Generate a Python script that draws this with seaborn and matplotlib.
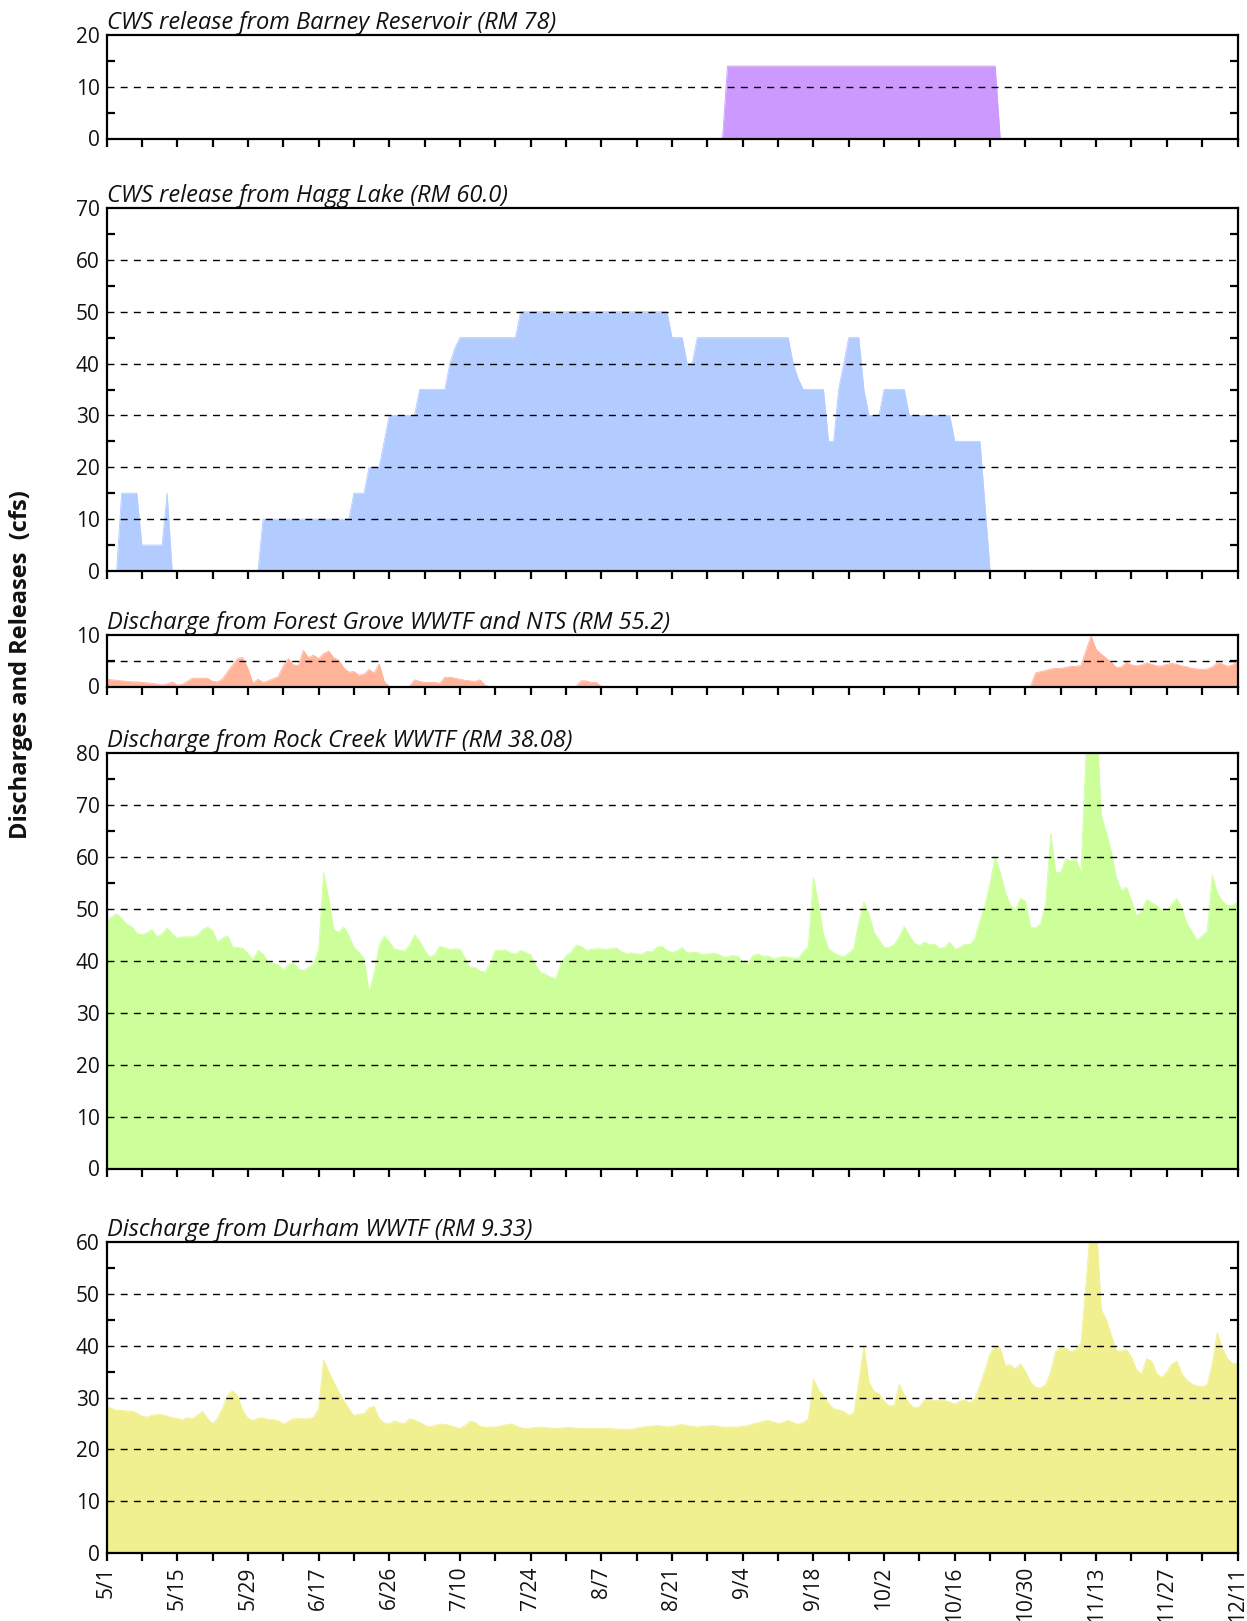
import matplotlib
matplotlib.use("Agg")
import matplotlib.pyplot as plt
from matplotlib.ticker import MultipleLocator, FixedLocator
import seaborn as sns

# x tick labels, one every 14 days from 5/1 to 12/11
date_labels = ['5/1', '5/15', '5/29', '6/17', '6/26', '7/10', '7/24', '8/7', '8/21',
               '9/4', '9/18', '10/2', '10/16', '10/30', '11/13', '11/27', '12/11']

# daily values (cfs), day 0 = 5/1 ... day 224 = 12/11, one row per two weeks
barney = [
    0, 0, 0, 0, 0, 0, 0, 0, 0, 0, 0, 0, 0, 0,
    0, 0, 0, 0, 0, 0, 0, 0, 0, 0, 0, 0, 0, 0,
    0, 0, 0, 0, 0, 0, 0, 0, 0, 0, 0, 0, 0, 0,
    0, 0, 0, 0, 0, 0, 0, 0, 0, 0, 0, 0, 0, 0,
    0, 0, 0, 0, 0, 0, 0, 0, 0, 0, 0, 0, 0, 0,
    0, 0, 0, 0, 0, 0, 0, 0, 0, 0, 0, 0, 0, 0,
    0, 0, 0, 0, 0, 0, 0, 0, 0, 0, 0, 0, 0, 0,
    0, 0, 0, 0, 0, 0, 0, 0, 0, 0, 0, 0, 0, 0,
    0, 0, 0, 0, 0, 0, 0, 0, 0, 0, 0, 14, 14, 14,
    14, 14, 14, 14, 14, 14, 14, 14, 14, 14, 14, 14, 14, 14,
    14, 14, 14, 14, 14, 14, 14, 14, 14, 14, 14, 14, 14, 14,
    14, 14, 14, 14, 14, 14, 14, 14, 14, 14, 14, 14, 14, 14,
    14, 14, 14, 14, 14, 14, 14, 14, 14, 0, 0, 0, 0, 0,
    0, 0, 0, 0, 0, 0, 0, 0, 0, 0, 0, 0, 0, 0,
    0, 0, 0, 0, 0, 0, 0, 0, 0, 0, 0, 0, 0, 0,
    0, 0, 0, 0, 0, 0, 0, 0, 0, 0, 0, 0, 0, 0,
    0]

hagg = [
    0, 0, 0, 15, 15, 15, 15, 5, 5, 5, 5, 5, 15, 0,
    0, 0, 0, 0, 0, 0, 0, 0, 0, 0, 0, 0, 0, 0,
    0, 0, 0, 10, 10, 10, 10, 10, 10, 10, 10, 10, 10, 10,
    10, 10, 10, 10, 10, 10, 10, 15, 15, 15, 20, 20, 20, 25,
    30, 30, 30, 30, 30, 30, 35, 35, 35, 35, 35, 35, 40, 43,
    45, 45, 45, 45, 45, 45, 45, 45, 45, 45, 45, 45, 50, 50,
    50, 50, 50, 50, 50, 50, 50, 50, 50, 50, 50, 50, 50, 50,
    50, 50, 50, 50, 50, 50, 50, 50, 50, 50, 50, 50, 50, 50,
    45, 45, 45, 40, 40, 45, 45, 45, 45, 45, 45, 45, 45, 45,
    45, 45, 45, 45, 45, 45, 45, 45, 45, 45, 40, 37, 35, 35,
    35, 35, 35, 25, 25, 35, 40, 45, 45, 45, 35, 30, 30, 30,
    35, 35, 35, 35, 35, 30, 30, 30, 30, 30, 30, 30, 30, 30,
    25, 25, 25, 25, 25, 25, 12.5, 0, 0, 0, 0, 0, 0, 0,
    0, 0, 0, 0, 0, 0, 0, 0, 0, 0, 0, 0, 0, 0,
    0, 0, 0, 0, 0, 0, 0, 0, 0, 0, 0, 0, 0, 0,
    0, 0, 0, 0, 0, 0, 0, 0, 0, 0, 0, 0, 0, 0,
    0]

forest_grove = [
    1.4, 1.3, 1.2, 1.1, 1.0, 0.9, 0.9, 0.8, 0.7, 0.6, 0.5, 0.3, 0.5, 0.9,
    0.3, 0.4, 1.0, 1.6, 1.6, 1.6, 1.6, 1.0, 0.9, 1.5, 2.9, 4.2, 5.5, 5.6,
    3.5, 0.7, 1.4, 0.8, 1.1, 1.5, 1.9, 4.0, 5.4, 4.2, 4.1, 7.0, 5.6, 6.1,
    5.4, 6.4, 6.9, 5.6, 5.1, 3.6, 2.8, 2.9, 2.2, 2.4, 3.3, 2.6, 4.4, 1.0,
    0, 0, 0, 0, 0, 1.3, 1.0, 0.8, 0.8, 0.8, 0.6, 1.8, 1.8, 1.6,
    1.4, 1.2, 1.1, 1.0, 1.3, 0.2, 0, 0, 0, 0, 0, 0, 0, 0,
    0, 0, 0, 0, 0, 0, 0, 0, 0, 0, 1.1, 1.1, 0.8, 0.8,
    0, 0, 0, 0, 0, 0, 0, 0, 0, 0, 0, 0, 0, 0,
    0, 0, 0, 0, 0, 0, 0, 0, 0, 0, 0, 0, 0, 0,
    0, 0, 0, 0, 0, 0, 0, 0, 0, 0, 0, 0, 0, 0,
    0, 0, 0, 0, 0, 0, 0, 0, 0, 0, 0, 0, 0, 0,
    0, 0, 0, 0, 0, 0, 0, 0, 0, 0, 0, 0, 0, 0,
    0, 0, 0, 0, 0, 0, 0, 0, 0, 0, 0, 0, 0, 0,
    0, 0, 2.6, 2.9, 3.1, 3.4, 3.5, 3.5, 3.7, 3.9, 3.9, 4.1, 7.0, 9.8,
    7.2, 6.3, 5.5, 4.7, 3.7, 3.8, 4.7, 4.2, 4.0, 4.2, 4.6, 4.3, 4.0, 4.0,
    4.3, 4.5, 4.3, 4.0, 3.8, 3.5, 3.4, 3.3, 3.4, 3.8, 4.6, 4.4, 3.9, 4.2,
    4.9]

rock_creek = [
    47.6, 48.5, 49.0, 48.2, 47.0, 46.6, 45.3, 45.0, 45.4, 46.0, 44.6, 45.2, 46.3, 45.2,
    44.4, 44.6, 44.6, 44.6, 44.9, 46.0, 46.5, 45.8, 43.6, 44.4, 44.8, 42.6, 42.6, 42.4,
    41.4, 40.2, 42.0, 41.3, 39.8, 39.5, 39.3, 38.2, 39.2, 39.7, 38.4, 38.1, 38.7, 39.4,
    42.0, 57.0, 52.0, 46.0, 45.5, 46.5, 44.8, 42.6, 41.6, 40.4, 34.0, 37.6, 43.0, 44.7,
    43.7, 42.2, 42.1, 41.8, 43.0, 45.0, 43.8, 42.0, 40.7, 41.2, 42.8, 42.5, 42.1, 42.3,
    42.2, 40.6, 38.7, 38.7, 38.0, 37.8, 39.6, 42.0, 42.0, 42.1, 41.5, 41.3, 42.0, 41.6,
    41.2, 39.2, 37.7, 37.4, 36.8, 36.6, 39.5, 41.0, 41.7, 43.0, 42.8, 42.0, 42.2, 42.3,
    42.3, 42.1, 42.4, 42.5, 41.7, 41.4, 41.5, 41.3, 41.3, 41.8, 41.7, 42.6, 42.8, 42.0,
    41.6, 41.9, 42.6, 41.5, 41.6, 41.6, 41.2, 41.3, 41.5, 41.3, 40.8, 40.7, 41.0, 40.9,
    39.8, 39.5, 41.0, 41.3, 40.9, 40.9, 40.4, 40.6, 40.8, 40.7, 40.5, 40.4, 41.8, 42.7,
    56.0, 51.0, 45.0, 42.3, 41.6, 41.0, 40.8, 41.5, 42.4, 47.5, 51.3, 49.0, 45.5, 44.0,
    42.6, 42.6, 43.1, 44.6, 46.6, 44.9, 43.4, 42.9, 43.6, 43.1, 43.2, 42.4, 42.6, 43.6,
    42.2, 42.6, 43.2, 43.1, 44.3, 47.8, 50.8, 55.0, 60.0, 57.0, 53.2, 50.7, 49.8, 52.0,
    51.5, 46.5, 46.3, 47.2, 51.0, 64.5, 57.0, 57.0, 59.6, 59.2, 59.6, 57.0, 80.0, 90.0,
    88.0, 68.0, 64.7, 61.0, 56.0, 53.5, 54.2, 51.5, 48.7, 49.6, 51.8, 51.2, 50.6, 49.7,
    49.6, 51.0, 52.0, 50.0, 47.1, 45.6, 43.9, 44.8, 45.7, 56.5, 53.0, 51.5, 50.6, 50.7,
    51.2]

durham = [
    28.3, 27.9, 27.5, 27.5, 27.4, 27.4, 27.0, 26.4, 26.2, 26.6, 26.7, 26.7, 26.4, 26.1,
    26.0, 25.7, 26.1, 25.9, 26.6, 27.3, 26.0, 24.9, 26.0, 28.0, 30.5, 31.3, 30.2, 27.4,
    26.0, 25.5, 26.0, 26.1, 25.7, 25.8, 25.5, 24.9, 25.4, 25.9, 25.9, 25.9, 25.9, 26.2,
    27.8, 37.2, 35.0, 33.0, 31.0, 29.4, 27.8, 26.5, 26.8, 26.9, 28.0, 28.3, 25.9, 25.1,
    24.9, 25.5, 25.1, 25.0, 25.9, 25.6, 25.2, 24.7, 24.3, 24.6, 24.9, 24.8, 24.6, 24.3,
    24.0, 24.6, 25.4, 25.2, 24.4, 24.3, 24.3, 24.3, 24.5, 24.7, 24.9, 24.6, 24.2, 24.0,
    24.1, 24.2, 24.3, 24.2, 24.1, 24.0, 24.1, 24.2, 24.2, 24.1, 24.0, 24.0, 24.0, 24.0,
    24.0, 24.0, 24.0, 23.9, 23.9, 23.8, 23.9, 24.1, 24.3, 24.4, 24.5, 24.6, 24.5, 24.3,
    24.4, 24.6, 24.8, 24.6, 24.4, 24.3, 24.4, 24.5, 24.6, 24.5, 24.3, 24.3, 24.3, 24.3,
    24.4, 24.6, 24.9, 25.1, 25.4, 25.6, 25.3, 25.0, 25.2, 25.6, 25.2, 24.8, 25.2, 25.9,
    33.5, 31.5, 30.3, 28.9, 27.8, 27.6, 27.3, 26.6, 27.0, 33.0, 40.0, 33.0, 31.2, 30.7,
    29.3, 28.4, 28.5, 32.5, 30.5, 28.8, 28.0, 28.2, 29.5, 29.5, 29.4, 29.4, 29.4, 29.1,
    28.7, 29.3, 29.5, 29.0, 29.8, 32.4, 35.3, 38.5, 40.0, 39.5, 36.2, 36.3, 35.5, 36.5,
    35.0, 33.0, 32.0, 31.8, 32.5, 35.0, 38.9, 39.7, 39.5, 38.8, 39.3, 40.5, 52.0, 65.0,
    64.0, 47.0, 45.0, 42.0, 39.0, 39.0, 39.2, 37.8, 35.3, 34.6, 37.5, 37.0, 34.6, 33.8,
    35.0, 36.5, 37.0, 34.5, 33.3, 32.6, 32.2, 32.1, 32.5, 36.5, 42.5, 39.4, 37.5, 36.6,
    36.6]

panel_titles = ['CWS release from Barney Reservoir (RM 78)',
                'CWS release from Hagg Lake (RM 60.0)',
                'Discharge from Forest Grove WWTF and NTS (RM 55.2)',
                'Discharge from Rock Creek WWTF (RM 38.08)',
                'Discharge from Durham WWTF (RM 9.33)']
panel_series = [barney, hagg, forest_grove, rock_creek, durham]
panel_ymax = [20, 70, 10, 80, 60]
panel_colors = ['#cc99ff', '#b3ccff', '#ffb399', '#ccff99', '#f0f090']

sns.set_theme(style='ticks')
plt.rcParams['font.family'] = ['Open Sans', 'DejaVu Sans']

W, H = 1247, 1621
fig = plt.figure(figsize=(W / 100, H / 100), dpi=100)

# axes placement in pixels: (top, bottom)
left_px, right_px = 106.5, 1237.5
rows_px = [(35, 138.5), (208, 571), (635, 686.5), (753, 1168.5), (1242, 1553)]

day_ticks = [14 * i for i in range(len(date_labels))]
minor_days = [7 + 14 * i for i in range(len(date_labels) - 1)]

axes = []
for (top, bot), title, vals, ymax, col in zip(rows_px, panel_titles, panel_series,
                                               panel_ymax, panel_colors):
    ax = fig.add_axes([left_px / W, 1 - bot / H, (right_px - left_px) / W, (bot - top) / H])
    days = list(range(len(vals)))
    ax.fill_between(days, 0, vals, color=col, lw=0, zorder=1)
    sns.lineplot(x=days, y=vals, ax=ax, color=col, lw=0.6, zorder=1.2)
    ax.set_xlim(0, 224)
    ax.set_ylim(0, ymax)
    ax.set_xlabel('')
    ax.set_ylabel('')

    ax.yaxis.set_major_locator(MultipleLocator(10))
    ax.yaxis.set_minor_locator(MultipleLocator(5))
    ax.xaxis.set_major_locator(FixedLocator(day_ticks))
    ax.xaxis.set_minor_locator(FixedLocator(minor_days))

    for s in ax.spines.values():
        s.set_visible(True)
        s.set_linewidth(1.6)
        s.set_color('black')
        s.set_zorder(4)

    ax.tick_params(axis='y', which='major', length=0, labelsize=15, pad=5,
                   labelcolor='#111111')
    ax.tick_params(axis='y', which='minor', direction='in', length=6, width=1.6,
                   left=True, right=True, color='black')
    ax.tick_params(axis='x', which='both', direction='out', length=6, width=1.6,
                   color='black', bottom=True, top=False)

    # dashed reference lines at the labelled values
    for yv in range(10, ymax, 10):
        ax.axhline(yv, color='black', lw=1.0, ls=(0, (5, 4.5)), zorder=3)
    if ymax == 10:
        ax.axhline(5, color='black', lw=1.0, ls=(0, (5, 4.5)), zorder=3)

    ax.set_title(title, loc='left', fontsize=17, fontstyle='italic', pad=2,
                 color='#111111')
    axes.append(ax)

for ax in axes[:-1]:
    ax.set_xticklabels([])
axes[-1].set_xticklabels(date_labels, rotation=90, fontsize=15, color='#111111')

fig.text(0.017, 0.59, 'Discharges and Releases  (cfs)', rotation=90, ha='center',
         va='center', fontsize=17, fontweight='bold', color='#111111')

fig.savefig('out.png', dpi=100)
